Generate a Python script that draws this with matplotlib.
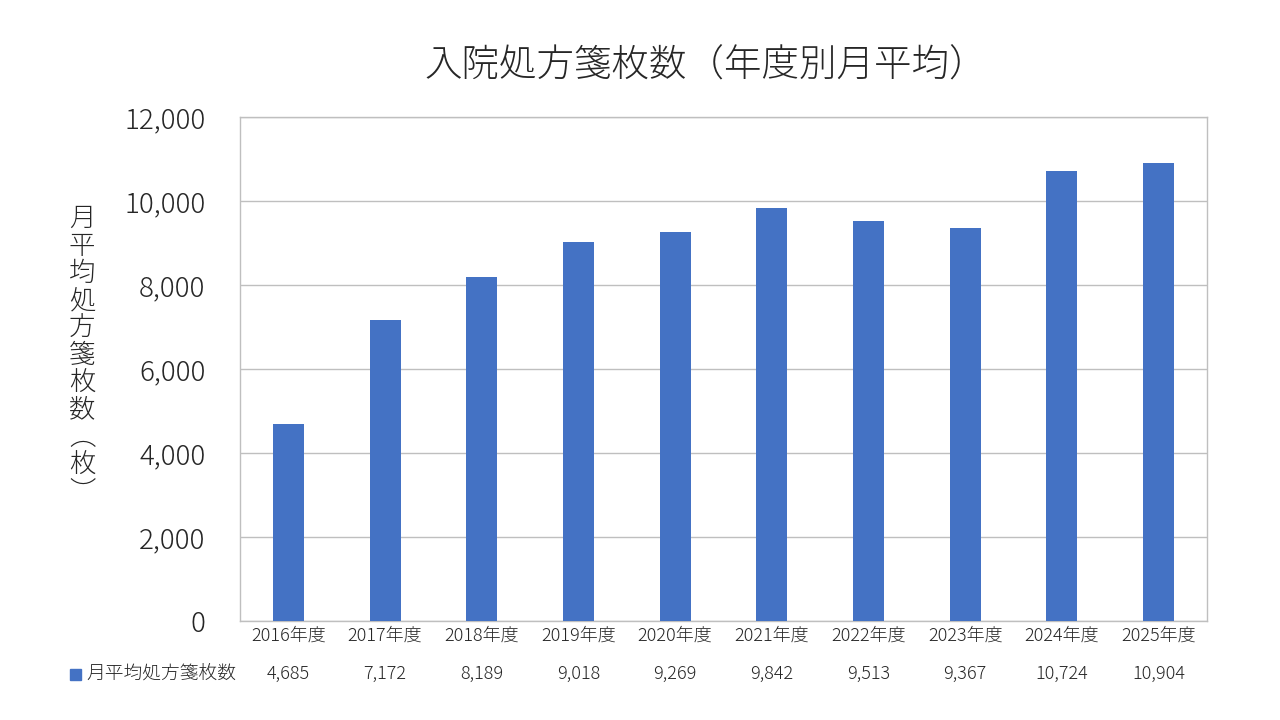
import matplotlib.pyplot as plt
from matplotlib.ticker import FuncFormatter

plt.rcParams['font.family'] = ['Noto Sans CJK JP', 'DejaVu Sans']

# ===============================
# Data
# ===============================
YEARS = ["2016年度", "2017年度", "2018年度", "2019年度", "2020年度",
         "2021年度", "2022年度", "2023年度", "2024年度", "2025年度"]
COUNTS = [4685, 7172, 8189, 9018, 9269, 9842, 9513, 9367, 10724, 10904]
SERIES_NAME = "月平均処方箋枚数"
TITLE = "入院処方箋枚数（年度別月平均）"
YLABEL = "月平均処方箋枚数︵枚︶"

BAR_COLOR = "#4472C4"
GRID_COLOR = "#BFBFBF"
TEXT_COLOR = "#262626"

# ===============================
# Plot
# ===============================
fig = plt.figure(figsize=(12.8, 7.2), dpi=100)
ax = fig.add_axes([240 / 1280, 1 - 621 / 720, 967 / 1280, 504 / 720])

x = range(len(YEARS))
ax.bar(x, COUNTS, width=0.32, color=BAR_COLOR, zorder=3)

ax.set_xlim(-0.5, len(YEARS) - 0.5)
ax.set_ylim(0, 12000)
ax.set_yticks(range(0, 12001, 2000))
ax.yaxis.set_major_formatter(FuncFormatter(lambda v, _: f"{int(v):,}"))
ax.grid(axis='y', color=GRID_COLOR, linewidth=1, zorder=0)

for side in ['left', 'right', 'top', 'bottom']:
    ax.spines[side].set_color(GRID_COLOR)
    ax.spines[side].set_linewidth(1)

ax.tick_params(axis='y', length=0, pad=25, labelsize=20, labelcolor=TEXT_COLOR)
ax.tick_params(axis='x', length=0, pad=4, labelsize=13, labelcolor=TEXT_COLOR)
ax.set_xticks(list(x))
ax.set_xticklabels(YEARS)
for lbl in ax.get_yticklabels() + ax.get_xticklabels():
    lbl.set_fontweight('light')

# vertical y label, one character per line
fig.text(82 / 1280, 1 - 355 / 720, "\n".join(YLABEL), ha='center', va='center',
         fontsize=19, color=TEXT_COLOR, linespacing=0.97, fontweight='light')

fig.text(0.551, 1 - 66 / 720, TITLE, ha='center', va='center',
         fontsize=27, color=TEXT_COLOR, fontweight='light')

# ===============================
# Data table below the axis
# ===============================
row_y = 1 - 674 / 720
fig.patches.append(plt.Rectangle((70 / 1280, 1 - 680 / 720), 11 / 1280, 11 / 720,
                                 transform=fig.transFigure, color=BAR_COLOR))
fig.text(86 / 1280, row_y, SERIES_NAME, ha='left', va='center',
         fontsize=13.5, color=TEXT_COLOR, fontweight='light')
for i, v in enumerate(COUNTS):
    xf = (240 + (i + 0.5) * 96.7) / 1280
    fig.text(xf, row_y, f"{v:,}", ha='center', va='center',
             fontsize=13, color=TEXT_COLOR, fontweight='light')

fig.savefig("out.png", dpi=100)
